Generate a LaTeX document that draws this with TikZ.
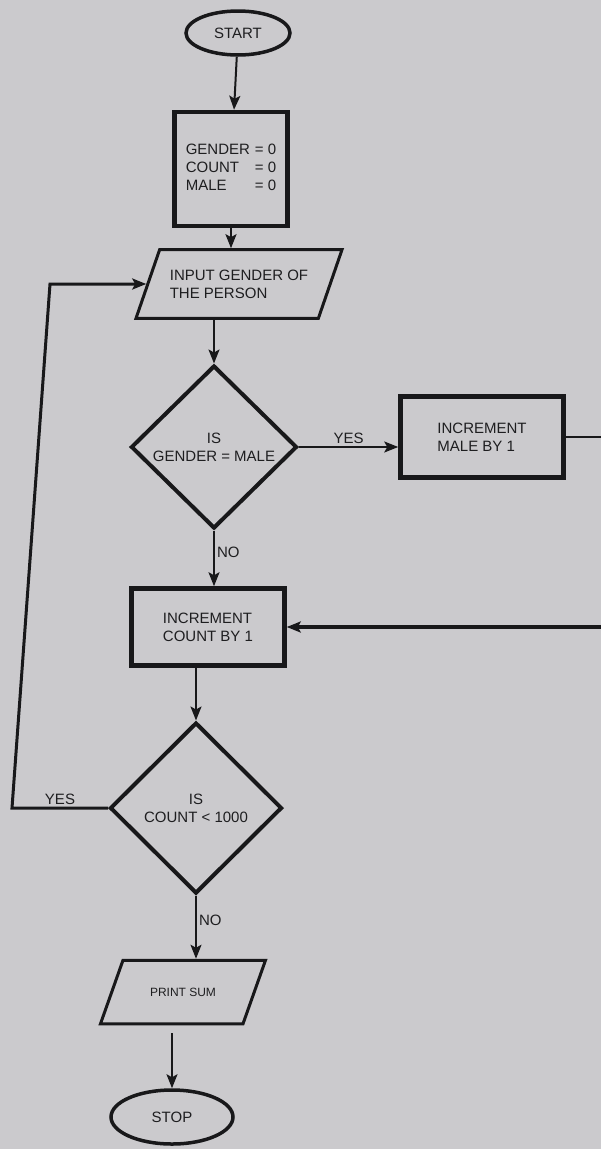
\documentclass[tikz,border=0pt]{standalone}
\usepackage{fontspec}
\setmainfont{Liberation Sans}
\usetikzlibrary{arrows.meta,shapes.geometric}
\definecolor{paper}{RGB}{203,202,205}
\definecolor{ink}{RGB}{24,24,26}
\definecolor{txtgray}{RGB}{30,30,32}

\begin{document}
\begin{tikzpicture}[
  % --- global style ---
  x=1pt, y=-1pt,
  >={Stealth[length=14pt,width=11pt,inset=3pt]},
  every node/.style={font=\fontsize{15}{18}\selectfont, text=txtgray},
  term/.style={
    draw=ink, ellipse, line width=3.5pt, inner sep=0pt
  },
  procbox/.style={
    draw=ink, rectangle, line width=4.5pt, inner sep=0pt
  },
  iobox/.style={
    draw=ink, trapezium, trapezium left angle=71, trapezium right angle=109,
    trapezium stretches body=true, line width=3pt, inner xsep=0pt
  },
  decision/.style={
    draw=ink, diamond, line width=4pt, inner sep=0pt, align=center
  },
  arr/.style={->, draw=ink, line width=2pt},
  lbl/.style={inner sep=2pt},
]

% ====== Page ======
\fill[paper] (0,0) rectangle (601,1149);
\clip (0,0) rectangle (601,1149);

% ====== Main column ======
\node[term, minimum width=104pt, minimum height=44pt] (start) at (238,33) {START};

\node[procbox, minimum width=113pt, minimum height=114pt] (init) at (231,169)
  {\begin{tabular}{@{}l@{\hspace{5pt}}l@{}}GENDER & = 0\\ COUNT & = 0\\ MALE & = 0\end{tabular}};

\node[iobox, inner ysep=20pt, minimum width=206pt, align=left]
  (input) at (239,284) {INPUT GENDER OF\\THE PERSON};

\node[decision, minimum width=166pt, minimum height=163pt]
  (dmale) at (214,447) {IS\\GENDER = MALE};

\node[procbox, minimum width=163pt, minimum height=81pt, align=left]
  (incmale) at (482,437) {INCREMENT\\MALE BY 1};

\node[procbox, minimum width=153pt, minimum height=77pt, align=left]
  (inccnt) at (208,627) {INCREMENT\\COUNT BY 1};

\node[decision, minimum width=172pt, minimum height=171pt]
  (dcnt) at (196,808) {IS\\COUNT < 1000};

\node[iobox, trapezium left angle=70.5, trapezium right angle=109.5, inner ysep=27.5pt,
      minimum width=165pt, font=\fontsize{12}{14}\selectfont]
  (prnt) at (183,992) {PRINT SUM};

\node[term, minimum width=122pt, minimum height=54pt] (stop) at (172,1117) {STOP};

% --- loop corners ---
\coordinate (rside) at (625,0);
\coordinate (loopb) at (12,808);
\coordinate (loopt) at (50,284);

% ====== Arrows ======
\draw[arr] (start) -- (init);
\draw[arr] (init.south) -- (init.south |- input.north);
\draw[arr] (input.south -| dmale.north) -- (dmale.north);
\draw[arr] (dmale.east) -- (dmale.east -| incmale.west) node[midway, above, lbl] {YES};
\draw[arr] (dmale.south) -- (dmale.south |- inccnt.north) node[pos=0.4, right, lbl] {NO};

% male branch back into count
\draw[ink, line width=2pt] (incmale.east) -- (incmale.east -| rside) -- (rside |- inccnt.east);
\draw[arr, line width=3.5pt] (rside |- inccnt.east) -- (inccnt.east);

\draw[arr] (dcnt.north |- inccnt.south) -- (dcnt.north);

% repeat loop
\draw[arr, line width=3pt] (dcnt.west) -- (loopb) node[midway, above, lbl] {YES}
  -- (loopt) -- (input.west);

\draw[arr] (dcnt.south) -- (dcnt.south |- prnt.north) node[pos=0.4, right, lbl] {NO};
\draw[arr, shorten <=8pt] (stop.north |- prnt.south) -- (stop.north);

\end{tikzpicture}
\end{document}
